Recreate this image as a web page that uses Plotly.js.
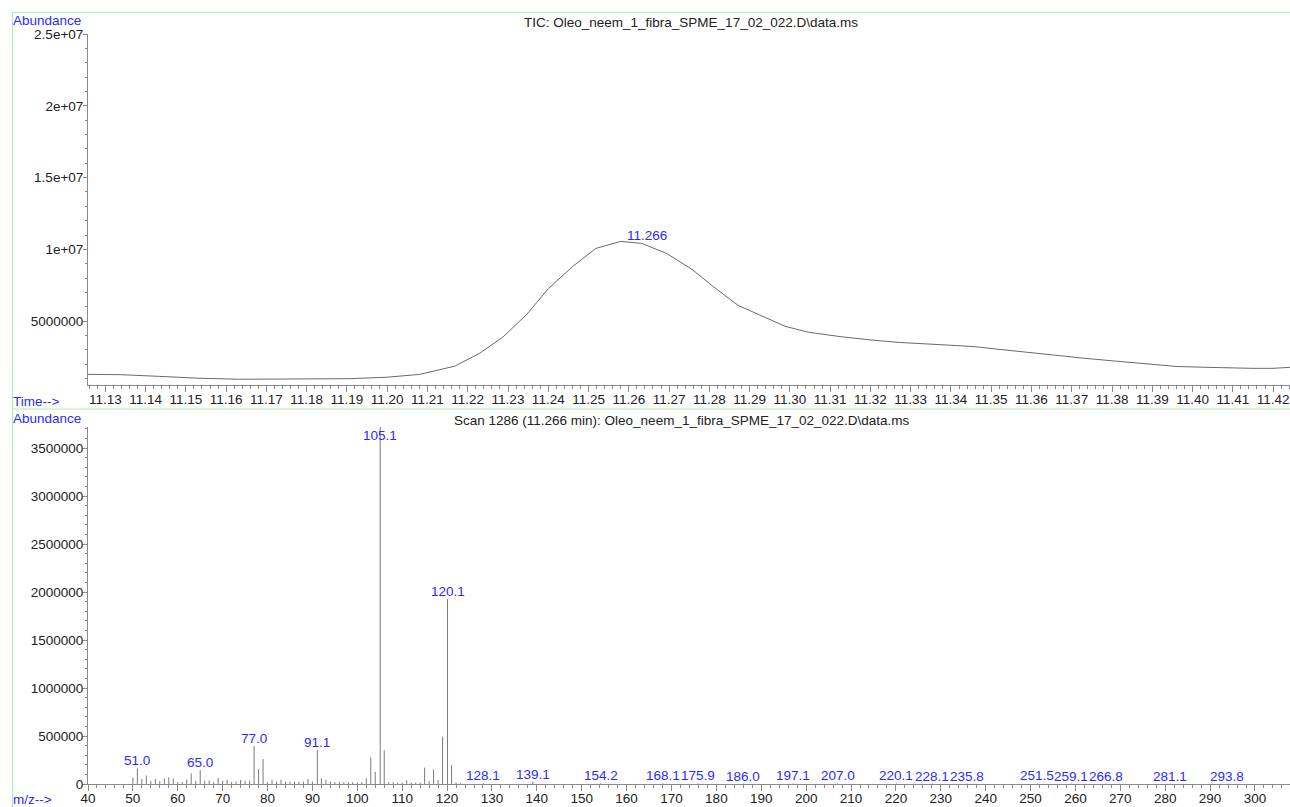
<!DOCTYPE html>
<html>
<head>
<meta charset="utf-8">
<script src="https://cdn.plot.ly/plotly-3.0.1.min.js"></script>
<style>html,body{margin:0;padding:0;background:#fff;}#chart{width:1290px;height:807px;}</style>
</head>
<body>
<div id="chart"></div>
<script>
// ---- TIC chromatogram ----
const ticTime = [11.1257, 11.1338, 11.1435, 11.1535, 11.1634, 11.1733, 11.1833, 11.1907, 11.1999, 11.2081,
  11.2168, 11.2230, 11.2287, 11.2347, 11.2401, 11.2461, 11.2518, 11.2580, 11.2632, 11.2694,
  11.2757, 11.2809, 11.2871, 11.2931, 11.2988, 11.3045, 11.3122, 11.3199, 11.3273, 11.3340,
  11.3398, 11.3455, 11.3514, 11.3589, 11.3663, 11.3728, 11.3802, 11.3869, 11.3961, 11.4036,
  11.4093, 11.4150, 11.4200, 11.4242];
const ticAbund = [1.30e6, 1.28e6, 1.16e6, 1.03e6, 0.96e6, 0.96e6, 0.96e6, 1.00e6, 1.10e6, 1.30e6,
  1.875e6, 2.78e6, 3.89e6, 5.49e6, 7.29e6, 8.82e6, 1.007e7, 1.056e7, 1.042e7, 9.72e6,
  8.61e6, 7.43e6, 6.11e6, 5.35e6, 4.65e6, 4.24e6, 3.94e6, 3.70e6, 3.52e6, 3.42e6,
  3.31e6, 3.24e6, 3.06e6, 2.83e6, 2.64e6, 2.43e6, 2.24e6, 2.06e6, 1.85e6, 1.79e6,
  1.74e6, 1.72e6, 1.72e6, 1.79e6];
const ticPeakTime = 11.266;
const ticPeakAbund = 1.045e7;
const ticPeakLabel = "11.266";
const ticYTickVals = [5e6, 1e7, 1.5e7, 2e7, 2.5e7];
const ticYTickText = ["5000000", "1e+07", "1.5e+07", "2e+07", "2.5e+07"];

// ---- Mass spectrum ----
const mzValues = [50, 51.0, 52, 53, 54, 55, 56, 57, 58, 59, 60, 61, 62, 63, 64, 65.0, 66, 67, 68, 69,
  70, 71, 72, 73, 74, 75, 76, 77.0, 78, 79, 80, 81, 82, 83, 84, 85, 86, 87, 88, 89,
  90, 91.1, 92, 93, 94, 95, 96, 97, 98, 99, 100, 101, 102, 103, 104, 105.1, 106, 107, 108, 109,
  110, 111, 112, 113, 114, 115, 116, 117, 118, 119, 120.1, 121, 122, 123,
  128.1, 139.1, 154.2, 168.1, 175.9, 186.0, 197.1, 207.0, 220.1, 228.1, 235.8, 251.5, 259.1, 266.8, 281.1, 293.8];
const mzAbund = [65000, 163000, 52000, 87000, 30000, 52000, 30000, 59000, 70000, 59000, 20000, 20000, 45000, 111000, 35000, 146000, 35000, 35000, 20000, 63000,
  35000, 42000, 20000, 25000, 42000, 35000, 35000, 396000, 156000, 260000, 20000, 45000, 25000, 45000, 25000, 25000, 25000, 25000, 25000, 52000,
  25000, 354000, 59000, 42000, 25000, 20000, 20000, 20000, 20000, 20000, 15000, 20000, 59000, 278000, 128000, 3720000, 351000, 20000, 20000, 15000,
  15000, 40000, 15000, 15000, 15000, 170000, 30000, 153000, 40000, 493000, 1927000, 198000, 15000, 10000,
  8000, 25000, 6000, 6000, 6000, 5000, 6000, 6000, 6000, 5000, 5000, 6000, 5000, 5000, 5000, 4000];
const mzLabels = ["51.0", "65.0", "77.0", "91.1", "105.1", "120.1", "128.1", "139.1", "154.2", "168.1",
  "175.9", "186.0", "197.1", "207.0", "220.1", "228.1", "235.8", "251.5", "259.1", "266.8", "281.1", "293.8"];

const topTitle = "TIC: Oleo_neem_1_fibra_SPME_17_02_022.D\\data.ms";
const bottomTitle = "Scan 1286 (11.266 min): Oleo_neem_1_fibra_SPME_17_02_022.D\\data.ms";

// ---- drawing ----
const W = 1290, H = 807;
const px = v => v / W;
const py = v => 1 - v / H;
const FONT = "Liberation Sans, Arial, Helvetica, sans-serif";
const FS = 13.5;
const BLUE = "#2a2aff";
const TXT = "#222222";
const AX = "#8a8a8a";
const GREEN = "#aaf0aa";

const segX = [], segY = [];
mzValues.forEach((m, i) => { segX.push(m, m, null); segY.push(0, mzAbund[i], null); });

const traces = [
  { x: ticTime, y: ticAbund, type: "scatter", mode: "lines", xaxis: "x", yaxis: "y",
    line: { color: "#6a6a6a", width: 1 }, hoverinfo: "skip" },
  { x: segX, y: segY, type: "scatter", mode: "lines", xaxis: "x2", yaxis: "y2",
    line: { color: "#7a7a7a", width: 1 }, hoverinfo: "skip" }
];

const maxAb = Math.max(...mzAbund);
const blueFont = { family: FONT, size: FS, color: BLUE };
const annotations = [
  { text: "Abundance", xref: "paper", yref: "paper", x: px(11), y: py(20), xanchor: "left", yanchor: "middle", showarrow: false, font: blueFont },
  { text: "Time-->", xref: "paper", yref: "paper", x: px(11), y: py(401), xanchor: "left", yanchor: "middle", showarrow: false, font: blueFont },
  { text: "Abundance", xref: "paper", yref: "paper", x: px(11), y: py(418), xanchor: "left", yanchor: "middle", showarrow: false, font: blueFont },
  { text: "m/z-->", xref: "paper", yref: "paper", x: px(11), y: py(799), xanchor: "left", yanchor: "middle", showarrow: false, font: blueFont },
  { text: bottomTitle, xref: "paper", yref: "paper", x: px(682), y: py(420), xanchor: "center", yanchor: "middle", showarrow: false, font: { family: FONT, size: FS, color: TXT } },
  { text: ticPeakLabel, xref: "x", yref: "y", x: ticPeakTime, y: ticPeakAbund, xanchor: "center", yanchor: "bottom", xshift: -6, yshift: -2, showarrow: false, font: blueFont }
];
mzLabels.forEach(l => {
  const m = parseFloat(l);
  const i = mzValues.indexOf(m);
  const a = i >= 0 ? mzAbund[i] : 0;
  const isMax = a === maxAb;
  annotations.push({ text: l, xref: "x2", yref: "y2", x: m, y: a, xanchor: "center",
    yanchor: isMax ? "top" : "bottom", yshift: isMax ? 1 : -2, showarrow: false, font: blueFont });
});

const shapes = [
  { type: "line", xref: "paper", yref: "paper", x0: px(12), x1: 1, y0: py(12.5), y1: py(12.5), line: { color: GREEN, width: 1 } },
  { type: "line", xref: "paper", yref: "paper", x0: px(12), x1: 1, y0: py(409), y1: py(409), line: { color: GREEN, width: 1 } },
  { type: "line", xref: "paper", yref: "paper", x0: px(12.5), x1: px(12.5), y0: py(12), y1: 0, line: { color: GREEN, width: 1 } }
];

const tickFont = { family: FONT, size: FS, color: TXT };
const layout = {
  width: W, height: H,
  margin: { l: 0, r: 0, t: 0, b: 0 },
  paper_bgcolor: "#ffffff", plot_bgcolor: "#ffffff",
  showlegend: false, hovermode: false,
  font: { family: FONT, size: FS, color: TXT },
  title: { text: topTitle, x: px(691), y: py(22), xanchor: "center", yanchor: "middle", xref: "paper", yref: "paper", font: { family: FONT, size: FS, color: TXT } },
  xaxis: { domain: [px(88), 1], anchor: "y", range: [11.1257, 11.4242], tickmode: "linear", tick0: 11.13, dtick: 0.01, tickformat: ".2f",
    ticks: "outside", ticklen: 6, tickcolor: AX, showline: true, linecolor: AX, linewidth: 1, showgrid: false, zeroline: false, tickfont: tickFont,
    ticklabelstandoff: -4,
    minor: { tick0: 11.13, dtick: 0.002, ticks: "outside", ticklen: 3, tickcolor: AX, showgrid: false } },
  yaxis: { domain: [py(385), py(34)], anchor: "x", range: [5.6e5, 2.5e7], tickmode: "array", tickvals: ticYTickVals, ticktext: ticYTickText,
    ticks: "outside", ticklen: 4, tickcolor: AX, showline: true, linecolor: AX, linewidth: 1, showgrid: false, zeroline: false, tickfont: tickFont,
    ticklabelstandoff: -3,
    minor: { tick0: 0, dtick: 1e6, ticks: "outside", ticklen: 2, tickcolor: AX, showgrid: false } },
  xaxis2: { domain: [px(88), 1], anchor: "y2", range: [40, 307.8], tickmode: "linear", tick0: 40, dtick: 10,
    ticks: "outside", ticklen: 6, tickcolor: AX, showline: true, linecolor: AX, linewidth: 1, showgrid: false, zeroline: false, tickfont: tickFont,
    ticklabelstandoff: -4,
    minor: { tick0: 40, dtick: 2, ticks: "outside", ticklen: 3, tickcolor: AX, showgrid: false } },
  yaxis2: { domain: [py(784), py(427)], anchor: "x2", range: [0, 3.72e6], tickmode: "linear", tick0: 0, dtick: 500000, tickformat: "d",
    ticks: "outside", ticklen: 4, tickcolor: AX, showline: true, linecolor: AX, linewidth: 1, showgrid: false, zeroline: false, tickfont: tickFont,
    ticklabelstandoff: -3,
    minor: { tick0: 0, dtick: 100000, ticks: "outside", ticklen: 2, tickcolor: AX, showgrid: false } },
  annotations: annotations,
  shapes: shapes
};

Plotly.newPlot("chart", traces, layout, { staticPlot: true, displayModeBar: false });
</script>
</body>
</html>
